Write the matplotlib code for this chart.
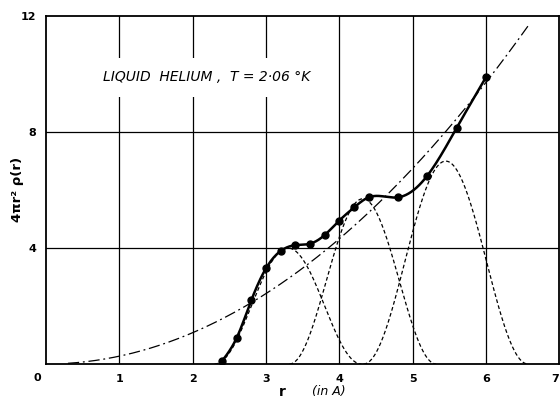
import numpy as np
import matplotlib
matplotlib.use("Agg")
import matplotlib.pyplot as plt

# measured radial distribution points, 4*pi*r^2*rho(r)
r_pts = [2.4, 2.6, 2.8, 3.0, 3.2, 3.4, 3.6, 3.8, 4.0, 4.2, 4.4, 4.8, 5.2, 5.6, 6.0]
g_pts = [0.1, 0.9, 2.2, 3.3, 3.9, 4.1, 4.15, 4.45, 4.95, 5.4, 5.75, 5.75, 6.5, 8.15, 9.9]

# average density curve 4*pi*r^2*rho0 (dash-dot)
rho0_coef = 0.27
r_avg = [0.3, 6.57]

# neighbour shells (dotted): centre, height, half-width
shell_centres = [3.3, 4.32, 5.45]
shell_heights = [4.0, 5.7, 7.0]
shell_widths = [1.0, 1.0, 1.12]

x_ticks = [1, 2, 3, 4, 5, 6, 7]
y_ticks = [4, 8, 12]


def natural_spline(x, y, xs):
    x = np.asarray(x, float)
    y = np.asarray(y, float)
    n = len(x)
    h = np.diff(x)
    A = np.zeros((n, n))
    b = np.zeros(n)
    A[0, 0] = A[-1, -1] = 1
    for i in range(1, n - 1):
        A[i, i - 1] = h[i - 1]
        A[i, i] = 2 * (h[i - 1] + h[i])
        A[i, i + 1] = h[i]
        b[i] = 6 * ((y[i + 1] - y[i]) / h[i] - (y[i] - y[i - 1]) / h[i - 1])
    M = np.linalg.solve(A, b)
    k = np.clip(np.searchsorted(x, xs) - 1, 0, n - 2)
    hk = h[k]
    a = (x[k + 1] - xs) / hk
    c = (xs - x[k]) / hk
    return (a * y[k] + c * y[k + 1]
            + ((a ** 3 - a) * M[k] + (c ** 3 - c) * M[k + 1]) * hk ** 2 / 6)


fig = plt.figure(figsize=(5.6, 4.04), dpi=100)
ax = fig.add_axes([0.082, 0.099, 0.917, 0.861])
ax.set_xlim(0, 7)
ax.set_ylim(0, 12)

for xv in x_ticks[:-1]:
    ax.axvline(xv, color="black", lw=0.9, zorder=1)
for yv in y_ticks[:-1]:
    ax.axhline(yv, color="black", lw=0.9, zorder=1)

# average density
ra = np.linspace(r_avg[0], r_avg[1], 300)
ax.plot(ra, rho0_coef * ra ** 2, color="black", lw=0.9,
        linestyle=(0, (9, 3, 1.5, 3)), zorder=2)

# shells
for c, hgt, w in zip(shell_centres, shell_heights, shell_widths):
    rs = np.linspace(c - w, c + w, 200)
    ax.plot(rs, hgt * np.cos(np.pi * (rs - c) / (2 * w)) ** 2,
            color="black", lw=0.9, linestyle=(0, (3, 2)), zorder=2)

# measured curve
rs = np.linspace(r_pts[0], r_pts[-1], 400)
ax.plot(rs, natural_spline(r_pts, g_pts, rs), color="black", lw=1.8, zorder=3)
ax.plot(r_pts, g_pts, "o", color="black", ms=5, zorder=4)

ax.text(0.78, 9.9, "LIQUID  HELIUM ,  T = 2·06 °K", fontsize=10,
        style="italic", va="center", ha="left", zorder=5,
        bbox=dict(facecolor="white", edgecolor="none", pad=9))

ax.set_xticks(x_ticks)
ax.set_yticks(y_ticks)
ax.set_xticklabels([str(v) for v in x_ticks], fontsize=8, fontweight="bold")
ax.set_yticklabels([str(v) for v in y_ticks], fontsize=8, fontweight="bold")
ax.get_xticklabels()[-1].set_horizontalalignment("right")
ax.tick_params(length=0, pad=7)
ax.text(-0.12, -0.5, "0", fontsize=8, fontweight="bold", ha="center",
        va="center", clip_on=False)

for s in ax.spines.values():
    s.set_linewidth(1.3)

fig.text(18 / 560, 0.53, "4πr² ρ(r)", fontsize=9.5, fontweight="bold",
         rotation=90, ha="center", va="center")
ax.text(3.22, -0.95, "r", fontsize=10, fontweight="bold", ha="center",
        va="center", clip_on=False)
ax.text(3.85, -0.95, "(in A)", fontsize=9, style="italic", ha="center",
        va="center", clip_on=False)

fig.savefig("out.png", dpi=100)
